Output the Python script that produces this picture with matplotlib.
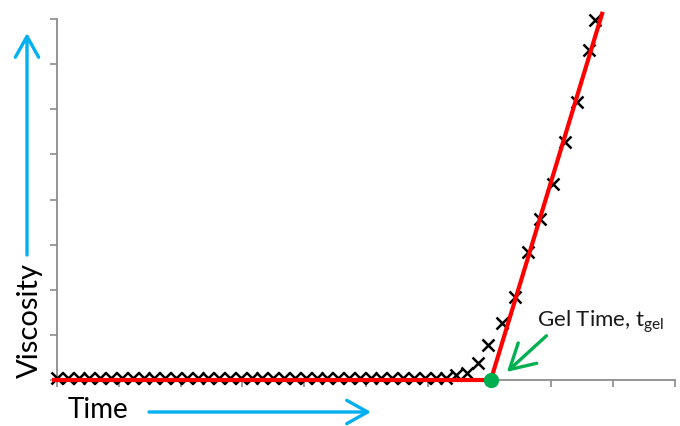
import matplotlib
matplotlib.use("Agg")
import matplotlib.pyplot as plt
from matplotlib.patches import FancyArrowPatch

plt.rcParams['font.family'] = ['Lato', 'DejaVu Sans']

# Measured viscosity readings (arbitrary units) against time (arbitrary units)
time_flat = [0.0, 0.175, 0.35, 0.525, 0.7, 0.875, 1.05, 1.225, 1.4, 1.575,
             1.75, 1.925, 2.1, 2.275, 2.45, 2.625, 2.8, 2.975, 3.15, 3.325,
             3.5, 3.675, 3.85, 4.025, 4.2, 4.375, 4.55, 4.725, 4.9, 5.075,
             5.25, 5.425, 5.6, 5.775, 5.95, 6.125, 6.3]
visc_flat = [0.04] * len(time_flat)
time_rise = [6.46, 6.63, 6.82, 6.98, 7.2, 7.41, 7.62, 7.82, 8.03, 8.22, 8.41, 8.61, 8.71]
visc_rise = [0.1, 0.16, 0.38, 0.78, 1.26, 1.84, 2.84, 3.57, 4.35, 5.28, 6.16, 7.32, 7.98]

# Two-line construction: flat baseline and tangent to the steep rise
gel_time = 7.02
fit_time = [-0.08, 7.02, 8.83]
fit_visc = [0.0, 0.0, 8.16]

red = '#FF0000'
blue = '#00B0F0'
green = '#00B050'
axis_grey = '#8C8C8C'

fig = plt.figure(figsize=(6.8, 4.26), dpi=100)
ax = fig.add_axes([57 / 680, 1 - 380 / 426, 618 / 680, 361 / 426])
ax.set_xlim(0, 10)
ax.set_ylim(0, 8)

ax.plot(time_flat + time_rise, visc_flat + visc_rise, linestyle='none',
        marker='x', markersize=8.5, markeredgewidth=1.8, color='black',
        clip_on=False, zorder=3)
ax.plot(fit_time, fit_visc, color=red, linewidth=3, solid_capstyle='butt',
        clip_on=False, zorder=4)
ax.plot([gel_time], [0], marker='o', markersize=11, color=green,
        markeredgewidth=0, clip_on=False, zorder=5)

ax.annotate('', xy=(7.28, 0.18), xytext=(7.92, 0.98),
            arrowprops=dict(arrowstyle='->,head_length=0.8,head_width=0.45',
                            mutation_scale=22, color=green, lw=2.4,
                            shrinkA=0, shrinkB=0))
ax.text(7.77, 1.3, r'Gel Time, $\mathregular{t_{gel}}$', fontsize=16,
        ha='left', va='center', color='#1a1a1a')

for side in ('top', 'right'):
    ax.spines[side].set_visible(False)
for side in ('left', 'bottom'):
    ax.spines[side].set_color(axis_grey)
    ax.spines[side].set_linewidth(1.3)
ax.set_xticks(range(0, 11))
ax.set_yticks(range(0, 9))
ax.tick_params(axis='both', direction='out', length=5, width=1.2,
               color=axis_grey, labelbottom=False, labelleft=False)

# Axis titles with direction arrows
fig.text(30 / 680, 1 - 320 / 426, 'Viscosity', rotation=90, fontsize=21,
         ha='center', va='center', color='black')
fig.text(98 / 680, 1 - 410 / 426, 'Time', fontsize=20,
         ha='center', va='center', color='black')
for start, end in [((27, 255), (27, 33)), ((149, 412), (371, 412))]:
    fig.patches.append(FancyArrowPatch(
        (start[0] / 680, 1 - start[1] / 426), (end[0] / 680, 1 - end[1] / 426),
        transform=fig.transFigure,
        arrowstyle='->,head_length=0.75,head_width=0.42', mutation_scale=20,
        color=blue, lw=2.4, shrinkA=0, shrinkB=0))

fig.savefig('out.png', dpi=100)
